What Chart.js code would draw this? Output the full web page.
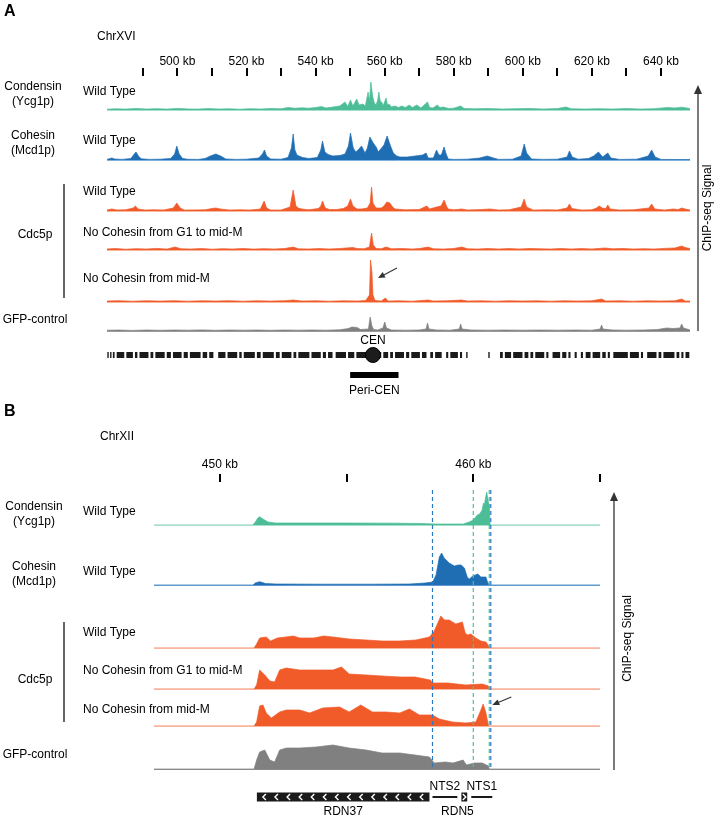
<!DOCTYPE html>
<html>
<head>
<meta charset="utf-8">
<title>ChIP-seq tracks</title>
<script src="https://cdn.jsdelivr.net/npm/chart.js"></script>
<style>
  body { margin: 0; background: #fff; }
  #wrap { position: relative; width: 718px; height: 821px; }
  canvas { position: absolute; left: 0; }
</style>
</head>
<body>
<div id="wrap">
  <canvas id="chartA" width="718" height="400" style="top:0px"></canvas>
  <canvas id="chartB" width="718" height="421" style="top:400px"></canvas>
</div>
<script>
var ticksA = [490, 500, 510, 520, 530, 540, 550, 560, 570, 580, 590, 600, 610, 620, 630, 640];
var labelledA = [500, 520, 540, 560, 580, 600, 620, 640];

var condensinA = [[479.6,0.8],[482,1.2],[485,0.9],[488,1.5],[491,1],[494,1.3],[497,0.9],[500,1.6],[503,1.1],[506,0.9],[509,1.4],[512,1],[515,1.2],[518,0.8],[521,1.3],[524,1],[527,1.5],[530,1.2],[532,2.5],[534,1.8],[536,2.2],[538,1.8],[540,2.5],[541.7,3.5],[543,2],[545,3],[547,4],[548.5,8],[549.3,3.5],[550.1,10],[550.8,4],[551.9,11],[552.6,5],[553.7,6],[554.4,4],[555.2,18],[555.6,9],[556,28],[556.5,14],[557,7],[557.5,5],[558,10],[558.3,18],[558.7,9],[559.1,8],[559.6,4.5],[560.4,12],[560.8,5],[561.2,6],[562,3],[563,4],[564,2.5],[564.9,4],[566,2.5],[567.1,5],[568,2.5],[569.3,5],[570.5,2],[572.4,8],[573,2.5],[574,2],[575.2,5],[576,2.5],[577,3],[578.5,1.5],[580,1.8],[582,4],[583,1.5],[586,1.2],[590,1.5],[594,1],[598,1.3],[602,1.5],[606,1],[610,1.4],[612.5,3],[614,1.2],[618,1],[622,1.3],[626,1],[630,1.4],[634,1],[638,1.3],[641.8,2.5],[644,2],[646,2.8],[648.4,1.5]];

var cohesinA = [[479.6,0.6],[480.5,1.5],[481,2],[481.8,1],[484,0.6],[486.5,1.5],[487.5,6],[488,8],[488.7,4],[489.5,1.2],[492,0.6],[495,0.8],[498,1.5],[499.2,6],[499.8,14],[500.5,6],[501.5,1.5],[503,0.7],[506,0.6],[508,1.5],[509.5,4],[511.1,6],[512.5,4],[514,1],[517,0.6],[520,0.8],[523.5,2],[524.6,6],[525.2,10],[525.8,4],[527,1],[530,0.8],[532,2.5],[533,12],[533.5,26],[534,10],[534.6,5],[535.5,3.5],[536.3,2.5],[538,1.5],[540.5,2.5],[541.5,10],[542,19],[542.7,8],[543.6,5.5],[545,4],[547,4.5],[548.5,6],[549.5,14],[550.1,27],[550.9,12],[551.6,8],[552.3,10],[553.3,14],[554.3,7],[555,12],[555.7,23],[556.7,17],[557.7,12],[558.1,8],[559.1,12],[559.8,15],[560.7,24],[561.7,14],[562.5,7],[563.5,4],[564.4,3],[566.5,3],[568.8,4],[571,5],[572,7],[572.6,2],[574.1,2],[575,10],[575.7,5],[576.4,5],[577.2,13],[577.8,6],[578.4,1],[580,0.6],[584,0.8],[587.5,2],[589.7,4],[591.5,2],[593,0.6],[597,0.8],[599.5,4],[600.4,16],[601.1,7],[602.5,1],[606,0.6],[610,0.8],[612.8,3],[613.5,9],[614.3,3],[616,0.8],[619,1.5],[620.5,4],[621.9,8],[623.1,3],[624.6,7],[625.5,2],[628,0.6],[633,0.8],[636.3,4],[637.3,10],[638.3,3],[640,0.6],[644,0.5],[648.4,0.5]];

var cdc5WtA = [[479.6,1],[481,2],[482.5,1],[485,1.2],[487.2,3],[487.8,5],[488.6,2],[490.5,1],[493,1.2],[496,1],[498.8,3],[499.8,8],[500.8,3],[502,1],[505,1.1],[508,1.2],[510,2.5],[511.1,3],[512.5,2],[515,1],[518,1.2],[521,1],[524,2],[525.1,10],[525.8,3],[527,1],[530,1],[532.6,4],[533.5,21],[534.3,5],[535,3],[536,2],[538,1.2],[540.8,2.5],[541.5,5],[542,10],[542.8,3],[544,1.5],[546,1.5],[548,2.5],[549.3,5],[550.1,12],[550.8,5],[552,2],[553.3,2],[555,3],[555.8,8],[556.2,24],[556.6,8],[557.5,3],[559,3],[559.8,5],[560.6,9],[561.5,8],[562.3,4],[563,2],[566,1.2],[570,1.5],[572.2,5],[573,2],[575,4],[576.3,5],[577.2,11],[578,4],[578.4,2],[580,1.2],[582.3,2],[584,1],[588,1.5],[590.5,2],[593,1],[596,1.2],[599.5,4],[600.4,12],[601.1,4],[603,1],[607,1.2],[610,1],[612.8,3],[613.5,7],[614.2,2.5],[617,1],[620,1.2],[621.3,3],[622.1,5],[623,3],[624,2.5],[624.6,6],[625.3,2],[628,1],[632,1.2],[636.5,3],[637.3,7],[638.2,2],[641,1],[643.6,2],[645,1.5],[646,3],[647,2],[648.4,1]];

var noCohG1A = [[479.6,1],[482,1.5],[485,0.8],[488,1.3],[491,1],[494,1.6],[497,0.9],[499.3,3],[501,1.2],[504,1],[507,1.5],[510,0.8],[513,1.3],[516,1],[519,1.5],[522,0.9],[525,1.3],[528,1],[531,1.5],[533.5,3],[535,1.2],[538,1],[541,1.4],[544,1],[547,1.5],[550.8,2.5],[552,1.5],[554,1.2],[555.6,3],[556.2,17],[556.7,5],[557.5,1.5],[559,1.2],[560.4,3],[562,1.2],[565,1.5],[568,1],[570,1.4],[572.6,3],[574,1.2],[577,1],[580,1.5],[582.3,3],[584,1.2],[587,1],[590,1.5],[593,1],[596,1.4],[599,1],[602,1.5],[605,1.2],[608,1],[611,1.5],[614,1],[617,1.4],[620,1],[623.8,2],[626,1.2],[629,1.5],[632,1],[635,1.3],[638,1],[641,1.6],[644,2],[646,4],[647,2.5],[648.4,1.5]];

var noCohMidA = [[479.6,1],[483,1.3],[487,0.8],[491,1.2],[495,0.9],[499,1.3],[503,0.8],[507,1.2],[511,1],[515,1.3],[519,0.8],[523,1.2],[527,0.9],[531,1.3],[533.5,2],[536,1],[540,1.2],[544,0.8],[548,1.2],[552,1],[554.5,1.5],[555.6,7],[555.9,42],[556.3,30],[556.6,7],[557.2,1.5],[559,1],[560.2,4],[561,1],[564,1.2],[568,0.8],[572.6,2],[574,1],[578,1.2],[582.3,2],[584,1],[588,1.2],[592,0.8],[596,1.2],[600,1],[604,1.2],[608,0.8],[612,1.2],[616,1],[620,1.2],[622.8,3],[624,1],[628,1.2],[632,0.8],[636,1.2],[640,1],[644,1.2],[646,3],[647,1],[648.4,1]];

var gfpA = [[479.6,0.8],[483,1],[487,0.6],[491,1],[495,0.7],[499,1],[503,0.8],[507,1.1],[511,0.7],[515,1],[519,0.8],[523,1],[527,0.7],[531,1],[535,0.8],[539,1],[543,0.8],[547,1.2],[549.5,2.5],[550.5,4],[552,3.5],[553,1.5],[555.3,2],[555.8,14],[556.3,5],[556.8,1.5],[558,1],[559.5,3],[560,9],[560.5,3],[562,1],[566,0.8],[570,1],[572,2],[572.4,8],[572.8,2],[575,1],[579,0.8],[581.6,2],[582,7],[582.4,2],[585,1],[590,0.8],[595,1],[600,0.8],[605,1],[610,0.8],[615,1],[620,0.8],[622.4,2],[622.8,6],[623.2,2],[626,1],[630,0.8],[635,1],[639,1.5],[641.6,3],[643.5,2.5],[645.5,3],[646,7],[646.5,3],[647.5,2],[648.4,1]];

var genesA = [[479.7,480.1],[480.5,480.9],[481.3,481.8],[482.4,484.6],[485.2,487.1],[487.7,488.4],[489.0,491.6],[492.2,493.0],[493.6,496.3],[496.9,498.1],[498.7,501.2],[501.8,503.0],[503.6,506.7],[507.3,508.6],[509.2,510.4],[511.8,513.9],[514.5,517.3],[517.9,518.6],[519.2,522.4],[523.0,524.1],[524.7,527.9],[528.5,529.6],[530.2,533.0],[533.6,534.4],[535.0,538.2],[538.8,541.5],[542.1,543.0],[543.6,544.9],[545.8,548.8],[549.4,551.2],[551.8,554.8],[555.4,559.0],[559.6,561.0],[561.6,562.4],[563.0,565.6],[566.2,567.1],[567.7,570.2],[570.8,572.1],[573.2,574.0],[574.6,576.5],[577.8,578.4],[579.0,581.2],[581.8,582.4],[583.6,584.0],[590.0,590.4],[593.4,594.2],[594.8,596.6],[597.2,599.9],[600.5,601.6],[602.2,603.0],[603.6,606.2],[606.8,607.4],[608.6,610.8],[611.4,612.6],[613.2,613.8],[615.0,615.6],[616.8,617.4],[618.2,619.6],[620.2,622.4],[623.0,624.0],[624.6,625.2],[626.2,630.4],[631.0,633.6],[634.2,634.8],[636.0,638.7],[639.3,640.1],[640.7,643.9],[644.5,645.3],[645.9,646.5],[647.1,648.2]];
var cenA = 556.6;
var periCenA = [550, 564];

// ---------- Panel B: ChrXII rDNA ----------
var ticksB = [450, 455, 460, 465];
var labelledB = [450, 460];

var condensinB = [[447.4,0],[451.3,0],[451.4,3],[451.5,7],[451.57,8.3],[451.7,6],[451.9,3],[452.2,2],[453,2],[455,2],[457,1.8],[458,1.5],[458.5,1],[459.2,1],[459.6,1],[459.84,3],[460.0,5],[460.16,10],[460.25,11],[460.3,13],[460.35,15],[460.4,22],[460.44,20],[460.48,27],[460.53,33],[460.58,25],[460.64,18],[460.66,1],[460.7,0],[465,0]];

var cohesinB = [[447.4,0],[451.3,0],[451.4,2],[451.57,3.3],[451.8,1.5],[452.2,1],[454,0.8],[456,0.8],[457.5,1],[458.1,2],[458.4,3],[458.53,10],[458.66,28],[458.75,32],[458.85,27],[459.05,22],[459.25,19],[459.4,20],[459.52,20],[459.65,17],[459.76,8],[459.84,6],[459.98,9],[460.18,11],[460.3,8],[460.5,8],[460.56,3],[460.63,0],[465,0]];

var cdc5WtB = [[447.4,0],[451.35,0],[451.45,4],[451.57,10],[451.83,11],[452.0,7],[452.27,10],[452.6,11],[452.9,12],[453.15,10],[453.7,10],[454.1,12],[454.46,11],[455.1,9],[455.77,8],[456.4,7],[457.1,7],[457.74,8],[458.27,11],[458.46,17],[458.6,25],[458.72,32],[458.86,28],[459.05,28],[459.31,24],[459.57,26],[459.68,15],[459.77,13],[459.9,14],[460.1,10],[460.3,7],[460.5,6],[460.66,0],[465,0]];

var noCohG1B = [[447.4,0],[451.35,0],[451.45,4],[451.57,19],[451.77,14],[451.97,8],[452.16,7],[452.36,19],[452.62,21],[453.15,19],[453.8,19],[454.46,19],[454.8,22],[455.1,15],[455.77,14],[456.4,13],[457.1,12],[457.7,12],[458.3,9],[458.39,6],[459.0,6],[459.7,4],[460.35,5],[460.6,3],[460.63,0],[465,0]];

var noCohMidB = [[447.4,0],[451.35,0],[451.45,4],[451.57,20],[451.7,21],[451.83,13],[452.03,8],[452.36,14],[452.62,16],[453.15,16],[453.54,13],[454.06,18],[454.72,19],[455.1,14],[455.56,21],[456.02,14],[456.55,14],[457.1,13],[457.48,17],[457.87,11],[458.39,11],[458.66,7],[459.18,4],[459.7,3],[460.1,4],[460.3,16],[460.39,22],[460.5,13],[460.6,0],[465,0]];

var gfpB = [[447.4,0],[451.35,0],[451.45,9],[451.57,17],[451.77,19],[451.97,9],[452.16,7],[452.36,19],[452.62,21],[453.15,21],[453.8,22],[454.46,24],[455.1,21],[455.77,19],[456.4,16],[457.1,16],[457.7,14],[458.27,12],[458.46,6],[458.9,7],[459.2,6],[459.6,9],[459.73,4],[460.04,6],[460.35,6],[460.6,3],[460.63,0],[465,0]];

var rdnFeatures = [
  { name: 'RDN37', start: 451.46, end: 458.27, kind: 'gene', dir: -1 },
  { name: 'NTS2', start: 458.39, end: 459.37, kind: 'spacer' },
  { name: 'RDN5', start: 459.53, end: 459.76, kind: 'gene', dir: 1 },
  { name: 'NTS1', start: 459.92, end: 460.75, kind: 'spacer' }
];
var boundariesB = [458.39, 460.0, 460.63, 460.69];

// ---------- styling ----------
var FONT = 'Arial, "Liberation Sans", sans-serif';
Chart.defaults.font.family = FONT;
Chart.defaults.color = '#000';

var C = {
  cond: '#4dbd98', condBase: '#a6dfca',
  coh: '#1f6eb4', cohBase: '#7fb0dc',
  cdc: '#f15a29', cdcBase: '#f8b69c',
  gfp: '#808080', gfpBase: '#9a9a9a'
};

function area(points, axis, color) {
  return {
    data: points.map(function (p) { return { x: p[0], y: p[1] }; }),
    yAxisID: axis, borderColor: color, backgroundColor: color,
    borderWidth: 0.7, pointRadius: 0, fill: 'origin', tension: 0
  };
}

function trackScale(h, baseColor) {
  return {
    type: 'linear', position: 'right', stack: 'tracks', stackWeight: h,
    min: 0, max: h,
    ticks: { display: false },
    border: { display: false },
    grid: {
      drawTicks: false, lineWidth: 1,
      color: function (c) { return c.tick && c.tick.value === 0 ? baseColor : 'rgba(0,0,0,0)'; }
    },
    afterFit: function (s) { s.width = 0; }
  };
}

function xScale(min, max, ticks, labelled, height, pad) {
  return {
    type: 'linear', position: 'top', min: min, max: max,
    afterBuildTicks: function (s) { s.ticks = ticks.map(function (v) { return { value: v }; }); },
    afterFit: function (s) { s.height = height; },
    ticks: {
      padding: pad, maxRotation: 0, autoSkip: false, color: '#000',
      font: { size: 12, lineHeight: 1 },
      callback: function (v) { return labelled.indexOf(v) >= 0 ? v + ' kb' : ''; }
    },
    grid: { drawOnChartArea: false, drawTicks: true, tickLength: 8, lineWidth: 2, color: '#000' },
    border: { display: false }
  };
}

function text(ctx, s, x, y, align) {
  ctx.textAlign = align || 'left';
  ctx.textBaseline = 'middle';
  ctx.fillText(s, x, y);
}

function arrow(ctx, x1, y1, x2, y2, len, half) {
  var a = Math.atan2(y2 - y1, x2 - x1), c = Math.cos(a), s = Math.sin(a);
  ctx.beginPath();
  ctx.moveTo(x1, y1);
  ctx.lineTo(x2 - c * len * 0.8, y2 - s * len * 0.8);
  ctx.stroke();
  ctx.beginPath();
  ctx.moveTo(x2, y2);
  ctx.lineTo(x2 - c * len - s * half, y2 - s * len + c * half);
  ctx.lineTo(x2 - c * len + s * half, y2 - s * len - c * half);
  ctx.closePath();
  ctx.fill();
}

function signalArrow(ctx, x, top, bottom, tx, ty) {
  ctx.strokeStyle = '#333'; ctx.fillStyle = '#333'; ctx.lineWidth = 1.3;
  arrow(ctx, x, bottom, x, top, 9, 4);
  ctx.save();
  ctx.translate(tx, ty);
  ctx.rotate(-Math.PI / 2);
  ctx.fillStyle = '#000';
  text(ctx, 'ChIP-seq Signal', 0, 0, 'center');
  ctx.restore();
}

// ---------- chart A ----------
var geneSegs = [];
genesA.forEach(function (g) {
  geneSegs.push({ x: g[0], y: 24 }, { x: g[1], y: 24 }, { x: g[1], y: null });
});

var annotA = {
  id: 'annotA',
  afterDraw: function (chart) {
    var ctx = chart.ctx, s = chart.scales, a = chart.chartArea;
    ctx.save();
    ctx.fillStyle = '#000';
    ctx.font = 'bold 16px ' + FONT;
    text(ctx, 'A', 4, 12);
    ctx.font = '12px ' + FONT;
    text(ctx, 'ChrXVI', 97, 37);

    var b = s.yCond.bottom;
    text(ctx, 'Condensin', 33, b - 23, 'center');
    text(ctx, '(Ycg1p)', 33, b - 8, 'center');
    text(ctx, 'Wild Type', 83, b - 18);
    b = s.yCoh.bottom;
    text(ctx, 'Cohesin', 33, b - 24, 'center');
    text(ctx, '(Mcd1p)', 33, b - 9, 'center');
    text(ctx, 'Wild Type', 83, b - 19);
    text(ctx, 'Wild Type', 83, s.yWt.bottom - 19);
    text(ctx, 'No Cohesin from G1 to mid-M', 83, s.yG1.bottom - 17);
    text(ctx, 'No Cohesin from mid-M', 83, s.yMid.bottom - 23);
    text(ctx, 'Cdc5p', 35, s.yG1.bottom - 15, 'center');
    text(ctx, 'GFP-control', 35, s.yGfp.bottom - 11, 'center');

    ctx.strokeStyle = '#000'; ctx.lineWidth = 1.2;
    ctx.beginPath();
    ctx.moveTo(64, s.yWt.top + 24);
    ctx.lineTo(64, s.yMid.bottom - 4);
    ctx.stroke();

    // CEN labels
    text(ctx, 'CEN', s.x.getPixelForValue(cenA), s.yFeat.getPixelForValue(38), 'center');
    text(ctx, 'Peri-CEN', s.x.getPixelForValue((periCenA[0] + periCenA[1]) / 2), s.yFeat.getPixelForValue(-11.5), 'center');

    // arrow to the mid-M centromere peak
    var hx = s.x.getPixelForValue(558.05), hy = s.yMid.getPixelForValue(24);
    ctx.strokeStyle = '#333'; ctx.fillStyle = '#333'; ctx.lineWidth = 1.1;
    arrow(ctx, hx + 19, hy - 10, hx, hy, 7, 3);

    signalArrow(ctx, a.right + 8, a.top + 9, s.yGfp.bottom, a.right + 18, (a.top + 9 + s.yGfp.bottom) / 2);
    ctx.restore();
  }
};

new Chart(document.getElementById('chartA'), {
  type: 'line',
  data: {
    datasets: [
      { data: [{ x: cenA, y: 24 }], yAxisID: 'yFeat', showLine: false, pointRadius: 7.5,
        pointBackgroundColor: '#1c1c1c', pointBorderColor: '#000', pointBorderWidth: 1 },
      { data: [{ x: periCenA[0], y: 4 }, { x: periCenA[1], y: 4 }], yAxisID: 'yFeat',
        borderColor: '#000', borderWidth: 6, pointRadius: 0, fill: false, borderCapStyle: 'butt' },
      { data: geneSegs, yAxisID: 'yFeat', borderColor: '#1a1a1a', borderWidth: 6,
        pointRadius: 0, fill: false, spanGaps: false, borderCapStyle: 'butt' },
      area(condensinA, 'yCond', C.cond),
      area(cohesinA, 'yCoh', C.coh),
      area(cdc5WtA, 'yWt', C.cdc),
      area(noCohG1A, 'yG1', C.cdc),
      area(noCohMidA, 'yMid', C.cdc),
      area(gfpA, 'yGfp', C.gfp)
    ]
  },
  options: {
    responsive: false, animation: false, events: [],
    layout: { padding: { left: 107, right: 28, top: 40, bottom: 21 } },
    plugins: { legend: { display: false }, tooltip: { enabled: false } },
    scales: {
      x: xScale(479.6, 648.4, ticksA, labelledA, 36, 0),
      yCond: trackScale(34, C.condBase),
      yCoh: trackScale(50, C.cohBase),
      yWt: trackScale(51, C.cdcBase),
      yG1: trackScale(39, C.cdcBase),
      yMid: trackScale(52, C.cdcBase),
      yGfp: trackScale(29, C.gfpBase),
      yFeat: { type: 'linear', position: 'right', stack: 'tracks', stackWeight: 48, min: 0, max: 48,
        display: false, afterFit: function (s) { s.width = 0; } }
    }
  },
  plugins: [annotA]
});

// ---------- chart B ----------
var boundaryColors = ['#2a78c2', '#3ec4a4', '#3ec4a4', '#2a78c2'];

var annotB = {
  id: 'annotB',
  afterDatasetsDraw: function (chart) {
    var ctx = chart.ctx, s = chart.scales, a = chart.chartArea;
    ctx.save();
    ctx.lineWidth = 1.2;
    ctx.setLineDash([4, 3]);
    boundariesB.forEach(function (v, i) {
      var x = s.x.getPixelForValue(v);
      ctx.strokeStyle = boundaryColors[i];
      ctx.beginPath();
      ctx.moveTo(x, a.top + 8);
      ctx.lineTo(x, s.yGfp.bottom + 1);
      ctx.stroke();
    });
    ctx.restore();
  },
  afterDraw: function (chart) {
    var ctx = chart.ctx, s = chart.scales, a = chart.chartArea;
    ctx.save();
    ctx.fillStyle = '#000';
    ctx.font = 'bold 16px ' + FONT;
    text(ctx, 'B', 4, 12);
    ctx.font = '12px ' + FONT;
    text(ctx, 'ChrXII', 100, 37);

    var b = s.yCond.bottom;
    text(ctx, 'Condensin', 34, b - 18, 'center');
    text(ctx, '(Ycg1p)', 34, b - 3, 'center');
    text(ctx, 'Wild Type', 83, b - 13);
    b = s.yCoh.bottom;
    text(ctx, 'Cohesin', 34, b - 18, 'center');
    text(ctx, '(Mcd1p)', 34, b - 3, 'center');
    text(ctx, 'Wild Type', 83, b - 13);
    text(ctx, 'Wild Type', 83, s.yWt.bottom - 15);
    text(ctx, 'No Cohesin from G1 to mid-M', 83, s.yG1.bottom - 18);
    text(ctx, 'No Cohesin from mid-M', 83, s.yMid.bottom - 16);
    text(ctx, 'Cdc5p', 35, s.yG1.bottom - 9, 'center');
    text(ctx, 'GFP-control', 35, s.yGfp.bottom - 14, 'center');

    ctx.strokeStyle = '#000'; ctx.lineWidth = 1.2;
    ctx.beginPath();
    ctx.moveTo(64, s.yWt.top + 37);
    ctx.lineTo(64, s.yMid.bottom - 4);
    ctx.stroke();

    // rDNA repeat annotation
    var y = s.yFeat.getPixelForValue(24);
    rdnFeatures.forEach(function (f) {
      var x1 = s.x.getPixelForValue(f.start), x2 = s.x.getPixelForValue(f.end);
      ctx.fillStyle = '#1a1a1a';
      ctx.strokeStyle = '#1a1a1a';
      if (f.kind === 'gene') {
        ctx.fillRect(x1, y - 4.5, x2 - x1, 9);
        ctx.strokeStyle = '#fff'; ctx.lineWidth = 1.4;
        var step = 12.1, cx = f.dir < 0 ? x1 + 6 : (x1 + x2) / 2 - 1.5;
        while (cx + 3 < x2) {
          ctx.beginPath();
          if (f.dir < 0) { ctx.moveTo(cx + 3, y - 3); ctx.lineTo(cx, y); ctx.lineTo(cx + 3, y + 3); }
          else { ctx.moveTo(cx, y - 3); ctx.lineTo(cx + 3, y); ctx.lineTo(cx, y + 3); }
          ctx.stroke();
          cx += step;
        }
        ctx.fillStyle = '#000';
        var lx = f.dir < 0 ? (x1 + x2) / 2 : x1 - 4;
        text(ctx, f.name, lx, s.yFeat.getPixelForValue(9), 'center');
      } else {
        ctx.lineWidth = 2;
        ctx.beginPath(); ctx.moveTo(x1, y); ctx.lineTo(x2, y); ctx.stroke();
        ctx.fillStyle = '#000';
        text(ctx, f.name, (x1 + x2) / 2, s.yFeat.getPixelForValue(34), 'center');
      }
    });

    // arrow to the NTS1 peak in the mid-M track
    var hx = s.x.getPixelForValue(460.75), hy = s.yMid.getPixelForValue(21);
    ctx.strokeStyle = '#333'; ctx.fillStyle = '#333'; ctx.lineWidth = 1.1;
    arrow(ctx, hx + 19, hy - 8, hx, hy, 7, 3);

    signalArrow(ctx, a.right + 14, a.top + 10, s.yGfp.bottom + 1, a.right + 28, (a.top + 10 + s.yGfp.bottom) / 2 + 8);
    ctx.restore();
  }
};

new Chart(document.getElementById('chartB'), {
  type: 'line',
  data: {
    datasets: [
      area(condensinB, 'yCond', C.cond),
      area(cohesinB, 'yCoh', C.coh),
      area(cdc5WtB, 'yWt', C.cdc),
      area(noCohG1B, 'yG1', C.cdc),
      area(noCohMidB, 'yMid', C.cdc),
      area(gfpB, 'yGfp', C.gfp)
    ]
  },
  options: {
    responsive: false, animation: false, events: [],
    layout: { padding: { left: 154, right: 118, top: 42, bottom: 0 } },
    plugins: { legend: { display: false }, tooltip: { enabled: false } },
    scales: {
      x: xScale(447.4, 465, ticksB, labelledB, 40, 3),
      yCond: trackScale(43, C.condBase),
      yCoh: trackScale(60, '#5f98cf'),
      yWt: trackScale(63, C.cdcBase),
      yG1: trackScale(41, C.cdcBase),
      yMid: trackScale(37, C.cdcBase),
      yGfp: trackScale(43, '#8a8a8a'),
      yFeat: { type: 'linear', position: 'right', stack: 'tracks', stackWeight: 52, min: 0, max: 52,
        display: false, afterFit: function (s) { s.width = 0; } }
    }
  },
  plugins: [annotB]
});
</script>
</body>
</html>
